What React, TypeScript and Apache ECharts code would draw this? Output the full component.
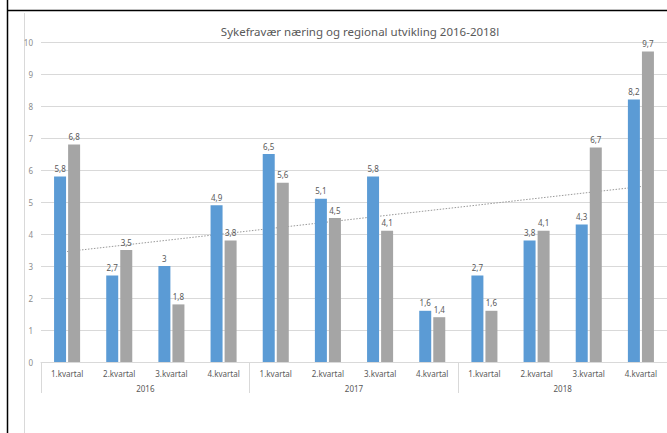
import React, { useEffect, useRef } from "react";
import * as echarts from "echarts";

const quarters = [
  "1.kvartal", "2.kvartal", "3.kvartal", "4.kvartal",
  "1.kvartal", "2.kvartal", "3.kvartal", "4.kvartal",
  "1.kvartal", "2.kvartal", "3.kvartal", "4.kvartal",
];
const years = ["2016", "2017", "2018"];
const seriesBlue = [5.8, 2.7, 3, 4.9, 6.5, 5.1, 5.8, 1.6, 2.7, 3.8, 4.3, 8.2];
const seriesGray = [6.8, 3.5, 1.8, 3.8, 5.6, 4.5, 4.1, 1.4, 1.6, 4.1, 6.7, 9.7];
const titleText = "Sykefravær næring og regional utvikling 2016-2018l";

function linearTrend(vals: number[]): number[] {
  const n = vals.length;
  const xs = vals.map((_, i) => i + 1);
  const mx = xs.reduce((a, b) => a + b, 0) / n;
  const my = vals.reduce((a, b) => a + b, 0) / n;
  let sxy = 0;
  let sxx = 0;
  for (let i = 0; i < n; i++) {
    sxy += (xs[i] - mx) * (vals[i] - my);
    sxx += (xs[i] - mx) * (xs[i] - mx);
  }
  const slope = sxy / sxx;
  return xs.map((x) => +(my + slope * (x - mx)).toFixed(4));
}

const FONT = "Noto Sans";
const labelFmt = (p: any) => String(p.value).replace(".", ",");

export default function App() {
  const ref = useRef<HTMLDivElement>(null);
  useEffect(() => {
    if (!ref.current) return;
    const chart = echarts.init(ref.current, null, { renderer: "svg" });
    chart.setOption({
      animation: false,
      backgroundColor: "#ffffff",
      textStyle: { fontFamily: FONT },
      title: {
        text: titleText,
        left: 355,
        top: 20,
        textAlign: "center",
        textStyle: { fontSize: 11.5, fontWeight: "normal", color: "#595959", fontFamily: FONT },
      },
      graphic: [
        { type: "line", shape: { x1: 7.5, y1: 0, x2: 7.5, y2: 433 }, style: { stroke: "#000", lineWidth: 1.5 } },
        { type: "line", shape: { x1: 7, y1: 10.5, x2: 667, y2: 10.5 }, style: { stroke: "#000", lineWidth: 1.5 } },
        { type: "line", shape: { x1: 24.5, y1: 13, x2: 24.5, y2: 433 }, style: { stroke: "#d9d9d9", lineWidth: 1 } },
      ],
      grid: { left: 41, right: 0, top: 42, bottom: 71, containLabel: false },
      xAxis: [
        {
          type: "category",
          data: quarters,
          axisLine: { show: true, lineStyle: { color: "#d9d9d9" } },
          axisTick: { show: false },
          axisLabel: { color: "#595959", fontSize: 8, margin: 7, interval: 0, fontFamily: FONT },
        },
        {
          type: "category",
          data: years,
          position: "bottom",
          axisLine: { show: false },
          axisTick: { show: true, length: 31, lineStyle: { color: "#d9d9d9" } },
          axisLabel: { color: "#595959", fontSize: 8, margin: 22, fontFamily: FONT },
        },
      ],
      yAxis: {
        type: "value",
        min: 0,
        max: 10,
        interval: 1,
        axisLine: { show: false },
        axisTick: { show: false },
        axisLabel: { color: "#8c8c8c", fontSize: 8, margin: 8, fontFamily: FONT },
        splitLine: { lineStyle: { color: "#d9d9d9" } },
      },
      series: [
        {
          type: "line",
          data: linearTrend(seriesGray),
          xAxisIndex: 0,
          z: 1,
          symbol: "none",
          silent: true,
          lineStyle: { color: "#999999", width: 1, type: [1.5, 1.5] },
        },
        {
          type: "bar",
          data: seriesBlue,
          xAxisIndex: 0,
          z: 3,
          barWidth: 12,
          barGap: "17%",
          itemStyle: { color: "#5b9bd5" },
          label: { show: true, position: "top", distance: 4, color: "#595959", fontSize: 8, formatter: labelFmt, fontFamily: FONT },
        },
        {
          type: "bar",
          data: seriesGray,
          xAxisIndex: 0,
          z: 3,
          barWidth: 12,
          itemStyle: { color: "#a5a5a5" },
          label: { show: true, position: "top", distance: 4, color: "#595959", fontSize: 8, formatter: labelFmt, fontFamily: FONT },
        },
      ],
    });
    return () => chart.dispose();
  }, []);
  return <div ref={ref} style={{ width: 667, height: 433, position: "absolute", left: 0, top: 0 }} />;
}
